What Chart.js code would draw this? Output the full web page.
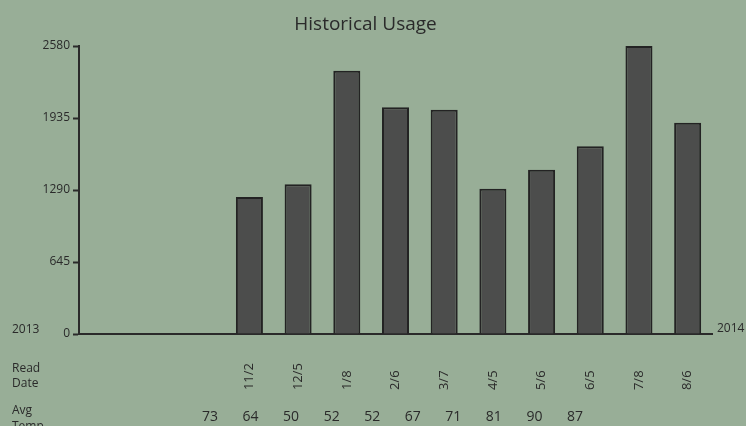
<!DOCTYPE html>
<html>
<head>
<meta charset="utf-8">
<script src="https://cdn.jsdelivr.net/npm/chart.js@4"></script>
<style>
  html, body { margin: 0; padding: 0; background: #98ae97; }
  canvas { display: block; }
</style>
</head>
<body>
<canvas id="usageChart" width="746" height="426"></canvas>
<script>
// historical usage data
const readDates = ['', '', '', '11/2', '12/5', '1/8', '2/6', '3/7', '4/5', '5/6', '6/5', '7/8', '8/6'];
const usage = [null, null, null, 1228, 1341, 2359, 2031, 2010, 1302, 1472, 1681, 2580, 1893];
const avgTemps = ['73', '64', '50', '52', '52', '67', '71', '81', '90', '87'];
const yTicks = [0, 645, 1290, 1935, 2580];
const years = ['2013', '2014'];
const rowLabels = [['Read', 'Date'], ['Avg', 'Temp']];

const ink = '#2a2a2a';
const fontName = "'Open Sans', 'Noto Sans', sans-serif";

// pad the date labels so the rotated text starts on one line
function padLabel(s) {
  let out = s;
  while (out.length < 4 && out.length > 0) out += '\u2007';
  return out;
}

const sideText = {
  id: 'sideText',
  afterDraw(chart) {
    const c = chart.ctx;
    const area = chart.chartArea;
    const zeroY = chart.scales.y.getPixelForValue(0);
    c.save();
    c.fillStyle = ink;
    c.font = '12px ' + fontName;
    c.textBaseline = 'alphabetic';
    c.textAlign = 'left';
    c.fillText(years[0], 12, zeroY - 1);
    c.fillText(years[1], area.right + 5, zeroY - 2);
    c.fillText(rowLabels[0][0], 12, 372);
    c.fillText(rowLabels[0][1], 12, 387);
    c.fillText(rowLabels[1][0], 12, 414);
    c.fillText(rowLabels[1][1], 12, 430);
    c.restore();
  }
};

const ctx = document.getElementById('usageChart');

new Chart(ctx, {
  type: 'bar',
  data: {
    labels: readDates,
    datasets: [{
      label: 'Usage',
      data: usage,
      backgroundColor: '#4c4d4c',
      borderColor: '#232323',
      borderWidth: 2,
      categoryPercentage: 1,
      barPercentage: 0.555,
      xAxisID: 'x',
      yAxisID: 'y'
    }]
  },
  options: {
    responsive: false,
    animation: false,
    layout: {
      padding: { left: 0, right: 15, top: 0, bottom: 0 }
    },
    plugins: {
      legend: { display: false },
      tooltip: { enabled: false },
      title: {
        display: true,
        text: 'Historical Usage',
        color: ink,
        font: { family: fontName, size: 19, weight: 'normal' },
        padding: { top: 13, bottom: 10.2 }
      }
    },
    scales: {
      x: {
        type: 'category',
        position: 'bottom',
        weight: 1,
        grid: { display: true, drawOnChartArea: false, drawTicks: false },
        border: { display: true, color: ink, width: 2 },
        ticks: {
          autoSkip: false,
          minRotation: 90,
          maxRotation: 90,
          padding: 29,
          color: ink,
          font: { family: fontName, size: 13 },
          callback: function(value, index) {
            return padLabel(readDates[index]);
          }
        },
        afterFit: function(scale) { scale.height = 62; }
      },
      x2: {
        type: 'linear',
        position: 'bottom',
        weight: 2,
        offset: false,
        min: -3.23,
        max: 12.38,
        grid: { display: false, drawTicks: false, offset: false },
        border: { display: false },
        ticks: {
          autoSkip: false,
          maxRotation: 0,
          padding: 13,
          color: ink,
          font: { family: fontName, size: 14 },
          callback: function(value) {
            return avgTemps[value];
          }
        },
        afterBuildTicks: function(scale) {
          scale.ticks = avgTemps.map(function(t, i) { return { value: i }; });
        },
        afterFit: function(scale) { scale.height = 30; }
      },
      y: {
        min: 0,
        max: 2580,
        grid: {
          display: true,
          drawOnChartArea: false,
          drawTicks: true,
          tickLength: 6,
          tickWidth: 2,
          tickColor: ink
        },
        border: { display: true, color: ink, width: 2 },
        ticks: {
          padding: 3,
          color: ink,
          font: { family: fontName, size: 12 },
          callback: function(value) { return String(value); }
        },
        afterBuildTicks: function(scale) {
          scale.ticks = yTicks.map(function(v) { return { value: v }; });
        },
        afterFit: function(scale) { scale.width = 79; }
      },
      // empty strip on the right, keeps room for the "2014" note
      yRight: {
        position: 'right',
        display: true,
        grid: { display: false, drawTicks: false },
        border: { display: false },
        ticks: { display: false },
        afterFit: function(scale) { scale.width = 19; }
      }
    }
  },
  plugins: [sideText]
});
</script>
</body>
</html>
